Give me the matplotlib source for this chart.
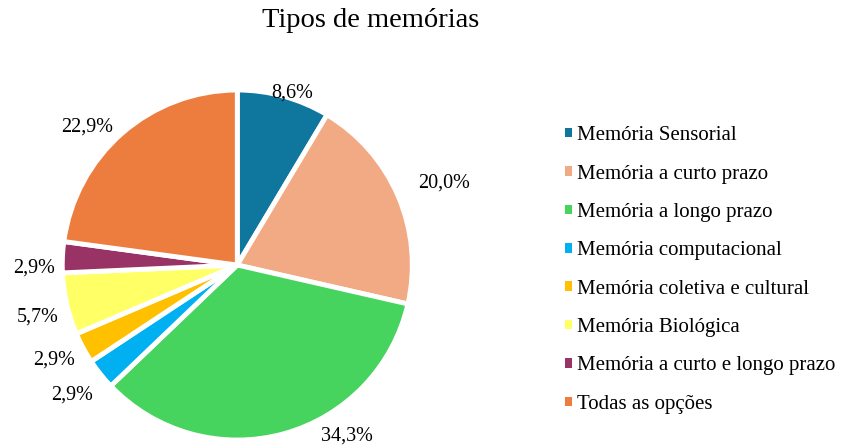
import numpy as np
import matplotlib.pyplot as plt
from matplotlib.patches import Patch

plt.rcParams['font.family'] = ['Liberation Serif', 'DejaVu Serif']

# respostas por tipo de memória (total 35)
categorias = ['Memória Sensorial', 'Memória a curto prazo', 'Memória a longo prazo',
              'Memória computacional', 'Memória coletiva e cultural', 'Memória Biológica',
              'Memória a curto e longo prazo', 'Todas as opções']
contagens = [3, 7, 12, 1, 1, 2, 1, 8]
cores = ['#0f779e', '#f2aa84', '#47d45e', '#00b0f0', '#ffc000', '#ffff66', '#993366', '#ed7d3f']

# posição dos rótulos: raio relativo e ajuste de ângulo (graus)
raio_rotulo = [1.03, 1.27, 1.16, 1.20, 1.18, 1.18, 1.16, 1.165]
ajuste_angulo = [-2.3, -1.5, 17.4, -0.4, -1, 1.7, 3.4, 6.3]

fig = plt.figure(figsize=(8.44, 4.47), dpi=100)
ax = fig.add_axes([0.0738, 0.0156, 0.4147, 0.7830])

wedges, _ = ax.pie(contagens, colors=cores, startangle=90, counterclock=False,
                   wedgeprops=dict(edgecolor='white', linewidth=3.5))
ax.set_aspect('equal')
ax.set_xlim(-1, 1)
ax.set_ylim(-1, 1)

total = sum(contagens)
for w, n, rr, da in zip(wedges, contagens, raio_rotulo, ajuste_angulo):
    ang = np.deg2rad((w.theta1 + w.theta2) / 2 + da)
    pct = f'{100 * n / total:.1f}%'.replace('.', ',')
    ax.text(rr * np.cos(ang), rr * np.sin(ang), pct, ha='center', va='center',
            fontsize=14.5, color='black', clip_on=False)

fig.text(0.439, 0.955, 'Tipos de memórias', ha='center', va='center', fontsize=20.5)

marcadores = [Patch(facecolor=c, edgecolor='none') for c in cores]
fig.legend(marcadores, categorias, loc='center left', bbox_to_anchor=(0.670, 0.396),
           frameon=False, fontsize=15, handlelength=0.32, handleheight=0.32,
           handletextpad=0.25, labelspacing=0.93, borderaxespad=0, borderpad=0)

fig.savefig('out.png', dpi=100)
